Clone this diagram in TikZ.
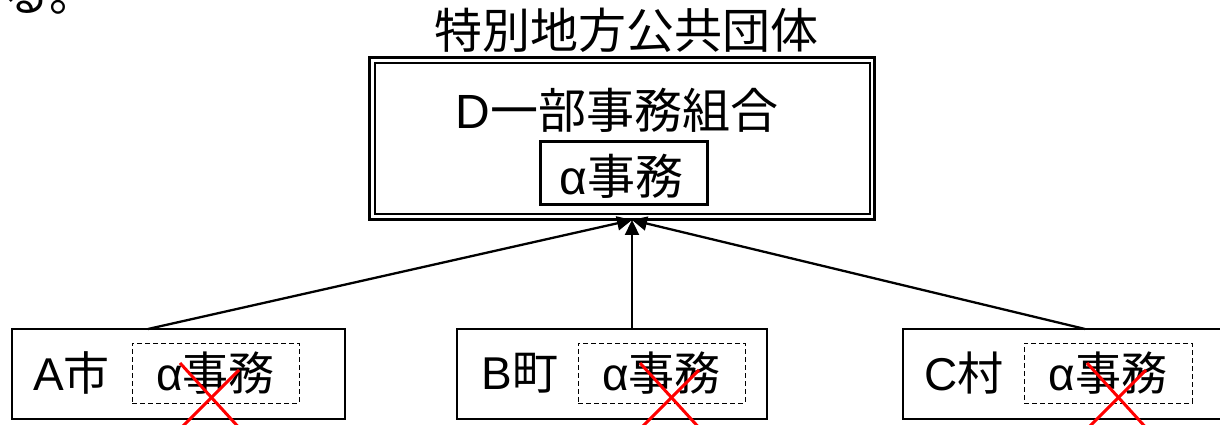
\documentclass[tikz,border=0pt]{standalone}
\usepackage{fontspec}
\setmainfont{Liberation Sans}
\newfontfamily\cjk{Noto Sans CJK JP}
\usetikzlibrary{arrows.meta}
\newcommand{\J}[1]{{\cjk #1}}
\begin{document}
\begin{tikzpicture}[x=1pt,y=1pt,
  every node/.style={inner sep=0pt, outer sep=0pt},
  bigtxt/.style={font=\fontsize{48}{52}\selectfont},
  smalltxt/.style={font=\fontsize{46}{50}\selectfont},
  outerbox/.style={draw=black, line width=3pt, minimum width=505pt, minimum height=162pt},
  jobbox/.style={draw=black, line width=3pt, minimum width=167pt, minimum height=63pt},
  townbox/.style={draw=black, line width=2pt, minimum height=90pt},
  dashbox/.style={draw=black, line width=0.9pt, dash pattern=on 5pt off 3pt, minimum width=167pt, minimum height=60pt, smalltxt},
  conn/.style={line width=2.3pt, -{Triangle[length=15pt,width=14pt]}},
  cross/.style={draw=red, line width=3pt}
]
\useasboundingbox (0,0) rectangle (1220,425);
\begin{scope}
\clip (0,0) rectangle (1220,425);
% leftover text at top-left
\node[smalltxt, anchor=base west] (prev) at (4,413) {\J{る。}};
% title
\node[bigtxt] (title) at (626.5,395) {\J{特別地方公共団体}};
% D union
\node[outerbox] (D) at (622,286) {};
\draw[line width=2pt] ([shift={(5.5,5.5)}]D.south west) rectangle ([shift={(-5,-5.5)}]D.north east);
\node[bigtxt] (Dname) at (617,315) {D\J{一部事務組合}};
\node[jobbox] (Djob) at (623.5,251.5) {};
\node[bigtxt] (Djobtxt) at (621.5,249) {α\J{事務}};
% towns
\node[townbox, minimum width=333pt] (A) at (178.5,51) {};
\node[townbox, minimum width=310pt] (B) at (612,51) {};
\node[townbox, minimum width=337pt] (C) at (1071.5,51) {};
\node[smalltxt] (Aname) at (71.5,52) {A\J{市}};
\node[smalltxt] (Bname) at (520,52) {B\J{町}};
\node[smalltxt] (Cname) at (964,52) {C\J{村}};
\node[dashbox] (Ajob) at (215.5,52) {α\J{事務}};
\node[dashbox] (Bjob) at (661.5,52) {α\J{事務}};
\node[dashbox, minimum width=168pt] (Cjob) at (1108,52) {α\J{事務}};
% red crosses
\foreach \n/\cx in {Ajob/210, Bjob/670, Cjob/1117}{
  \draw[cross] (\cx-30,62) -- (\cx+32,-6);
  \draw[cross] (\cx+29,55) -- (\cx-32,-6);
}
% connectors
\coordinate (tip) at ([xshift=10pt]D.south);
\coordinate (aTop) at ([xshift=-30.5pt]A.north);
\coordinate (bTop) at ([xshift=20pt]B.north);
\coordinate (cTop) at ([xshift=13.5pt]C.north);
\draw[conn] (aTop) -- (tip);
\draw[conn] (bTop) -- (tip);
\draw[conn] (cTop) -- (tip);
\end{scope}
\end{tikzpicture}
\end{document}
